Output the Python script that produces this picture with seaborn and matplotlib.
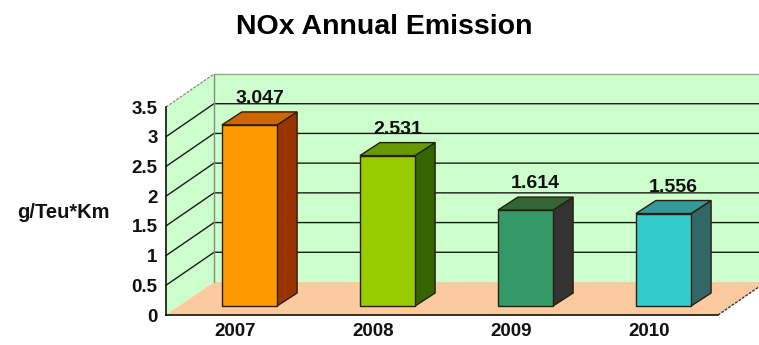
import matplotlib
matplotlib.use("Agg")
import matplotlib.pyplot as plt
from matplotlib.patches import Polygon
from matplotlib.lines import Line2D
from matplotlib.transforms import IdentityTransform, offset_copy
import seaborn as sns

# --- data -------------------------------------------------------------
years = ["2007", "2008", "2009", "2010"]
nox = [3.047, 2.531, 1.614, 1.556]
y_ticks = [0, 0.5, 1, 1.5, 2, 2.5, 3, 3.5]
y_tick_labels = ["0", "0.5", "1", "1.5", "2", "2.5", "3", "3.5"]
title = "NOx Annual Emission"
y_label = "g/Teu*Km"

front_colors = ["#FF9900", "#99CC00", "#339966", "#33CCCC"]
side_colors = ["#993300", "#336600", "#333333", "#336666"]
top_colors = ["#CC6600", "#669900", "#336633", "#339999"]

# --- figure -----------------------------------------------------------
sns.set_style("white")
plt.rcParams["font.family"] = ["Liberation Sans", "DejaVu Sans"]
plt.rcParams["font.weight"] = "bold"

W, H, DPI = 759, 345, 100
fig = plt.figure(figsize=(W / DPI, H / DPI), dpi=DPI)
fig.patch.set_facecolor("white")
# front plane of the 3-D box
ax = fig.add_axes([166 / W, 30 / H, 552 / W, 208 / H])

sns.barplot(x=years, y=nox, hue=years, palette=front_colors, saturation=1,
            width=0.4, edgecolor="#2b1d10", linewidth=1.0, legend=False,
            ax=ax, zorder=5)
bars = list(ax.patches)

ax.set_xlim(-0.5, 3.5)
ax.set_ylim(0, 3.5)
ax.set_facecolor("none")

# depth offsets in pixels
WALL_DX, WALL_DY = 48, 33      # front plane -> back wall
BAR_DX, BAR_DY = 14.5, 9       # front plane -> bar front faces
DEP_DX, DEP_DY = 20, 13        # bar depth


def disp(x, y, dx=0.0, dy=0.0):
    px, py = ax.transData.transform((x, y))
    return (px + dx, py + dy)


def poly(points, z, **kw):
    p = Polygon(points, closed=True, transform=IdentityTransform(),
                clip_on=False, zorder=z, **kw)
    ax.add_patch(p)


def seg(points, z, **kw):
    xs = [p[0] for p in points]
    ys = [p[1] for p in points]
    ln = Line2D(xs, ys, transform=IdentityTransform(), clip_on=False,
                zorder=z, **kw)
    ax.add_line(ln)


y0, y1 = y_ticks[0], y_ticks[-1]
xl, xr = -0.5, 3.5
xfar = 4.2

wall_green = "#CCFFCC"
floor_tan = "#FBCA9E"

# left side wall
poly([disp(xl, y0), disp(xl, y1), disp(xl, y1, WALL_DX, WALL_DY),
      disp(xl, y0, WALL_DX, WALL_DY)], 0.5, facecolor=wall_green,
     edgecolor="none")
# back wall
poly([disp(xl, y0, WALL_DX, WALL_DY), disp(xl, y1, WALL_DX, WALL_DY),
      disp(xfar, y1, WALL_DX, WALL_DY), disp(xfar, y0, WALL_DX, WALL_DY)],
     0.5, facecolor=wall_green, edgecolor="none")
# floor
poly([disp(xl, y0), disp(xr, y0), disp(xr, y0, WALL_DX, WALL_DY),
      disp(xl, y0, WALL_DX, WALL_DY)], 0.6, facecolor=floor_tan,
     edgecolor="none")

# gridlines running along the side wall and back wall
for v in y_ticks[1:-1]:
    seg([disp(xl, v), disp(xl, v, WALL_DX, WALL_DY),
         disp(xfar, v, WALL_DX, WALL_DY)], 0.8, color="#1a1a1a", lw=1.0)
# top edges and back corner of the box
seg([disp(xl, y1), disp(xl, y1, WALL_DX, WALL_DY)], 0.8, color="#8a948a",
    lw=1.0, ls=(0, (2, 1)))
seg([disp(xl, y1, WALL_DX, WALL_DY), disp(xfar, y1, WALL_DX, WALL_DY)], 0.8,
    color="#9aa59a", lw=1.0)
seg([disp(xl, y0, WALL_DX, WALL_DY), disp(xl, y1, WALL_DX, WALL_DY)], 0.8,
    color="#7f8f7f", lw=1.0)
# right edge of the floor
seg([disp(xr, y0), disp(xr, y0, WALL_DX, WALL_DY)], 0.8, color="#333333",
    lw=1.0, ls=(0, (2, 1)))

# push the bar fronts into the box and add side / top faces
bar_trans = offset_copy(ax.transData, fig=fig, x=BAR_DX, y=BAR_DY,
                        units="dots")
for i, patch in enumerate(bars):
    patch.set_transform(bar_trans)
    x0 = patch.get_x()
    x1 = x0 + patch.get_width()
    h = patch.get_height()
    side = [disp(x1, 0, BAR_DX, BAR_DY), disp(x1, h, BAR_DX, BAR_DY),
            disp(x1, h, BAR_DX + DEP_DX, BAR_DY + DEP_DY),
            disp(x1, 0, BAR_DX + DEP_DX, BAR_DY + DEP_DY)]
    top = [disp(x0, h, BAR_DX, BAR_DY), disp(x1, h, BAR_DX, BAR_DY),
           disp(x1, h, BAR_DX + DEP_DX, BAR_DY + DEP_DY),
           disp(x0, h, BAR_DX + DEP_DX, BAR_DY + DEP_DY)]
    poly(side, 4, facecolor=side_colors[i], edgecolor="#2b1d10", lw=1.0)
    poly(top, 4, facecolor=top_colors[i], edgecolor="#2b1d10", lw=1.0)
    ax.annotate(f"{nox[i]:.3f}", xy=(x0 + patch.get_width() / 2, h),
                xytext=(BAR_DX + DEP_DX / 2, BAR_DY + DEP_DY + 9),
                textcoords="offset pixels", ha="center", va="baseline",
                fontsize=14, fontweight="bold", color="#111111", zorder=6)

# axes, ticks and labels
for name in ("top", "right"):
    ax.spines[name].set_visible(False)
for name in ("left", "bottom"):
    ax.spines[name].set_color("#111111")
    ax.spines[name].set_linewidth(1.2)
    ax.spines[name].set_zorder(3)

ax.set_yticks(y_ticks)
ax.set_yticklabels(y_tick_labels)
ax.set_xticks(range(len(years)))
ax.set_xticklabels(years)
ax.set_xticks([-0.5, 0.5, 1.5, 2.5, 3.5], minor=True)
ax.tick_params(axis="y", length=4, width=1, direction="out", pad=2,
               labelsize=13.5, colors="#111111")
ax.tick_params(axis="x", which="major", length=0, pad=6, labelsize=13.5,
               colors="#111111")
ax.tick_params(axis="x", which="minor", length=4, width=1, direction="out",
               colors="#111111")
for t in ax.get_xticklabels() + ax.get_yticklabels():
    t.set_fontweight("bold")
ax.set_xlabel("")
ax.set_ylabel("")

fig.text(63 / W, 1 - 213 / H, y_label, ha="center", va="center",
         fontsize=14.5, fontweight="bold", color="#111111")
fig.text(384 / W, 1 - 34 / H, title, ha="center", va="baseline",
         fontsize=20.5, fontweight="bold", color="#000000")

fig.savefig("out.png", dpi=DPI)
